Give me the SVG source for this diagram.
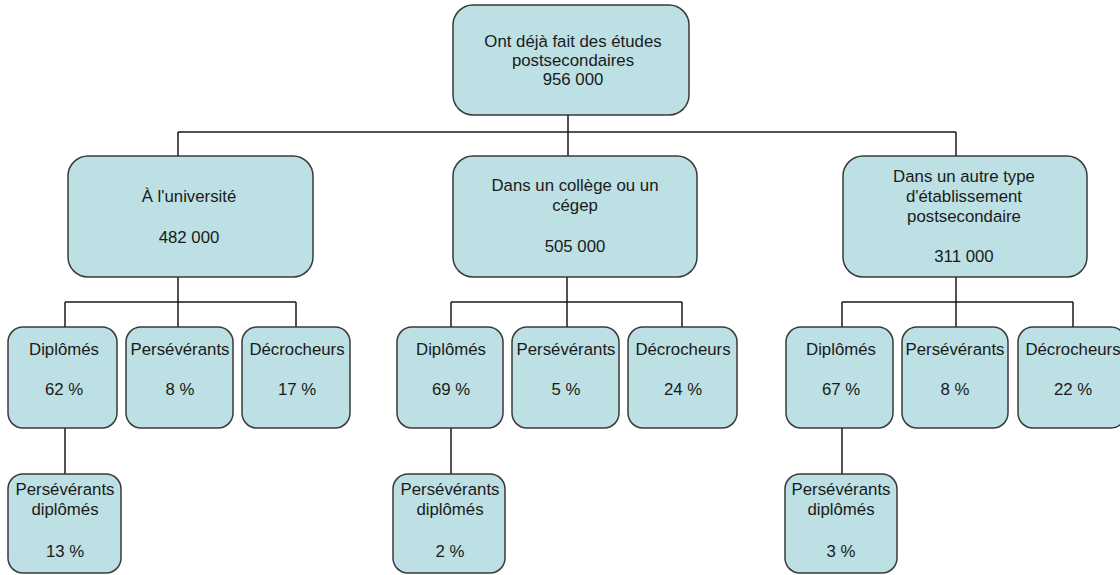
<svg xmlns="http://www.w3.org/2000/svg" width="1120" height="575" viewBox="0 0 1120 575">
<style>
.box{fill:#bce0e3;stroke:#3a3a3a;stroke-width:1.5}
.t{font-family:"Liberation Sans",Arial,sans-serif;font-size:16.8px;fill:#1a1a1a;text-anchor:middle}
.c{fill:none;stroke:#1a1a1a;stroke-width:1.5}
</style>
<rect width="1120" height="575" fill="#ffffff"/>
<g id="connectors">
<path class="c" d="M568 115V132M178 132H956M178 132V156M568 132V156M956 132V156"/>
<path class="c" d="M178 277V302M65 302H296M65 302V327M178 302V327M296 302V327"/>
<path class="c" d="M567 277V302M451 302H682M451 302V327M567 302V327M682 302V327"/>
<path class="c" d="M956 277V302M842 302H1073M842 302V327M956 302V327M1073 302V327"/>
<path class="c" d="M65 428V474M451 428V474M842 428V474"/>
</g>
<g id="root">
<rect class="box" x="453" y="5" width="236" height="110" rx="20"/>
<text class="t" x="573" y="47">Ont déjà fait des études</text>
<text class="t" x="573" y="66">postsecondaires</text>
<text class="t" x="573" y="85">956 000</text>
</g>
<g id="universite">
<rect class="box" x="68" y="156" width="245" height="121" rx="20"/>
<text class="t" x="189" y="202">À l'université</text>
<text class="t" x="189" y="243">482 000</text>
</g>
<g id="college">
<rect class="box" x="453" y="156" width="244" height="121" rx="20"/>
<text class="t" x="575" y="191">Dans un collège ou un</text>
<text class="t" x="575" y="211">cégep</text>
<text class="t" x="575" y="252">505 000</text>
</g>
<g id="autre">
<rect class="box" x="843" y="156" width="244" height="121" rx="20"/>
<text class="t" x="964" y="182">Dans un autre type</text>
<text class="t" x="964" y="202">d'établissement</text>
<text class="t" x="964" y="222">postsecondaire</text>
<text class="t" x="964" y="262">311 000</text>
</g>
<g id="u-diplomes">
<rect class="box" x="8" y="327" width="109" height="101" rx="15"/>
<text class="t" x="64" y="355">Diplômés</text>
<text class="t" x="64" y="395">62 %</text>
</g>
<g id="u-perseverants">
<rect class="box" x="126" y="327" width="107" height="101" rx="15"/>
<text class="t" x="180" y="355">Persévérants</text>
<text class="t" x="180" y="395">8 %</text>
</g>
<g id="u-decrocheurs">
<rect class="box" x="242" y="327" width="108" height="101" rx="15"/>
<text class="t" x="297" y="355">Décrocheurs</text>
<text class="t" x="297" y="395">17 %</text>
</g>
<g id="c-diplomes">
<rect class="box" x="397" y="327" width="106" height="101" rx="15"/>
<text class="t" x="451" y="355">Diplômés</text>
<text class="t" x="451" y="395">69 %</text>
</g>
<g id="c-perseverants">
<rect class="box" x="512" y="327" width="107" height="101" rx="15"/>
<text class="t" x="566" y="355">Persévérants</text>
<text class="t" x="566" y="395">5 %</text>
</g>
<g id="c-decrocheurs">
<rect class="box" x="628" y="327" width="109" height="101" rx="15"/>
<text class="t" x="683" y="355">Décrocheurs</text>
<text class="t" x="683" y="395">24 %</text>
</g>
<g id="a-diplomes">
<rect class="box" x="786" y="327" width="107" height="101" rx="15"/>
<text class="t" x="841" y="355">Diplômés</text>
<text class="t" x="841" y="395">67 %</text>
</g>
<g id="a-perseverants">
<rect class="box" x="902" y="327" width="106" height="101" rx="15"/>
<text class="t" x="955" y="355">Persévérants</text>
<text class="t" x="955" y="395">8 %</text>
</g>
<g id="a-decrocheurs">
<rect class="box" x="1018" y="327" width="108" height="101" rx="15"/>
<text class="t" x="1073" y="355">Décrocheurs</text>
<text class="t" x="1073" y="395">22 %</text>
</g>
<g id="u-perseverants-diplomes">
<rect class="box" x="8" y="474" width="113" height="99" rx="15"/>
<text class="t" x="65" y="495">Persévérants</text>
<text class="t" x="65" y="515">diplômés</text>
<text class="t" x="65" y="557">13 %</text>
</g>
<g id="c-perseverants-diplomes">
<rect class="box" x="393" y="474" width="112" height="99" rx="15"/>
<text class="t" x="450" y="495">Persévérants</text>
<text class="t" x="450" y="515">diplômés</text>
<text class="t" x="450" y="557">2 %</text>
</g>
<g id="a-perseverants-diplomes">
<rect class="box" x="785" y="474" width="112" height="99" rx="15"/>
<text class="t" x="841" y="495">Persévérants</text>
<text class="t" x="841" y="515">diplômés</text>
<text class="t" x="841" y="557">3 %</text>
</g>
</svg>
